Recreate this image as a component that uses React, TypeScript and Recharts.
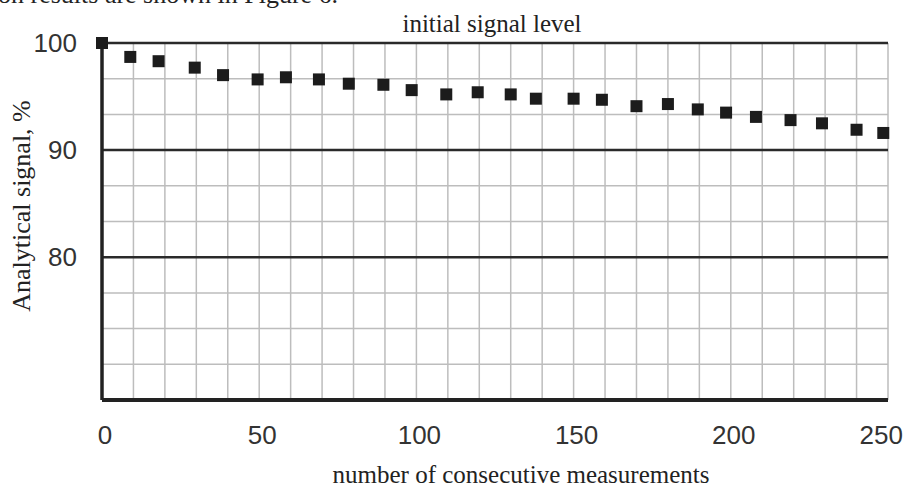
import React from "react";
import {
  ScatterChart,
  Scatter,
  XAxis,
  YAxis,
  CartesianGrid,
  ReferenceLine,
} from "recharts";

// measurement number
const measurements = [
  0, 9, 18, 29.5, 38.5, 49.5, 58.5, 69, 78.5, 89.5, 98.5, 109.5, 119.5, 130,
  138, 150, 159, 170, 180, 189.5, 198.5, 208, 219, 229, 240, 248.5,
];
// analytical signal, % of initial
const signal = [
  100, 98.7, 98.3, 97.7, 97.0, 96.6, 96.8, 96.6, 96.2, 96.1, 95.6, 95.2, 95.4,
  95.2, 94.8, 94.8, 94.7, 94.1, 94.3, 93.8, 93.5, 93.1, 92.8, 92.5, 91.9, 91.6,
];

const xTicks = [0, 50, 100, 150, 200, 250];
const yTicks = [80, 90, 100];
const yMajor = [80, 90, 100];
const xGrid = [
  0, 10, 20, 30, 40, 50, 60, 70, 80, 90, 100, 110, 120, 130, 140, 150, 160,
  170, 180, 190, 200, 210, 220, 230, 240, 250,
];
const yGrid = [
  66.667, 70, 73.333, 76.667, 80, 83.333, 86.667, 90, 93.333, 96.667, 100,
];

const data = measurements.map((x, i) => ({ x, y: signal[i] }));

const SERIF = "'Liberation Serif', 'Times New Roman', serif";
const SANS = "'Liberation Sans', Arial, sans-serif";
const INK = "#222";

const SquareDot = (props: any) => {
  const { cx, cy } = props;
  if (cx == null || cy == null) return null;
  return <rect x={cx - 6} y={cy - 6} width={12} height={12} fill="#1c1c1c" />;
};

// last label sits flush with the right edge, like the original
const XTick = (props: any) => {
  const { x, y, payload } = props;
  const last = payload.value === 250;
  return (
    <text
      x={last ? x + 15 : x + 3}
      y={y + 22}
      dy="0.75em"
      textAnchor={last ? "end" : "middle"}
      fill="#333"
      fontSize={26}
      fontFamily={SANS}
    >
      {payload.value}
    </text>
  );
};

export default function App() {
  return (
    <div
      style={{
        position: "absolute",
        left: 0,
        top: 0,
        width: 905,
        height: 487,
        background: "#fff",
        overflow: "hidden",
      }}
    >
      <div
        style={{
          position: "absolute",
          left: -2,
          top: -20,
          fontFamily: SERIF,
          fontSize: 26,
          color: INK,
          whiteSpace: "nowrap",
        }}
      >
        on results are shown in Figure 6.
      </div>
      <div
        style={{
          position: "absolute",
          left: 492,
          top: 24,
          transform: "translate(-50%, -50%)",
          fontFamily: SERIF,
          fontSize: 25,
          color: INK,
          whiteSpace: "nowrap",
        }}
      >
        initial signal level
      </div>
      <ScatterChart
        width={905}
        height={487}
        margin={{ top: 43, right: 17, bottom: 0, left: 0 }}
      >
        <CartesianGrid
          stroke="#bdbdbd"
          strokeWidth={1.5}
          horizontalValues={yGrid}
          verticalValues={xGrid}
        />
        <XAxis
          type="number"
          dataKey="x"
          domain={[0, 250]}
          ticks={xTicks}
          height={87}
          tickSize={0}
          axisLine={{ stroke: INK, strokeWidth: 4 }}
          tick={<XTick />}
        />
        <YAxis
          type="number"
          dataKey="y"
          domain={[66.667, 100]}
          ticks={yTicks}
          width={102}
          tickSize={0}
          tickMargin={25}
          axisLine={{ stroke: INK, strokeWidth: 3.5 }}
          tick={{ fill: "#333", fontSize: 26, fontFamily: SANS }}
        />
        {yMajor.map((v) => (
          <ReferenceLine key={v} y={v} stroke="#2a2a2a" strokeWidth={2.5} />
        ))}
        <Scatter data={data} shape={SquareDot} isAnimationActive={false} />
      </ScatterChart>
      <div
        style={{
          position: "absolute",
          left: 521,
          top: 475,
          transform: "translate(-50%, -50%)",
          fontFamily: SERIF,
          fontSize: 25,
          color: INK,
          whiteSpace: "nowrap",
        }}
      >
        number of consecutive measurements
      </div>
      <div
        style={{
          position: "absolute",
          left: 22,
          top: 206,
          transform: "translate(-50%, -50%) rotate(-90deg)",
          fontFamily: SERIF,
          fontSize: 26,
          color: INK,
          whiteSpace: "nowrap",
        }}
      >
        Analytical signal, %
      </div>
    </div>
  );
}
